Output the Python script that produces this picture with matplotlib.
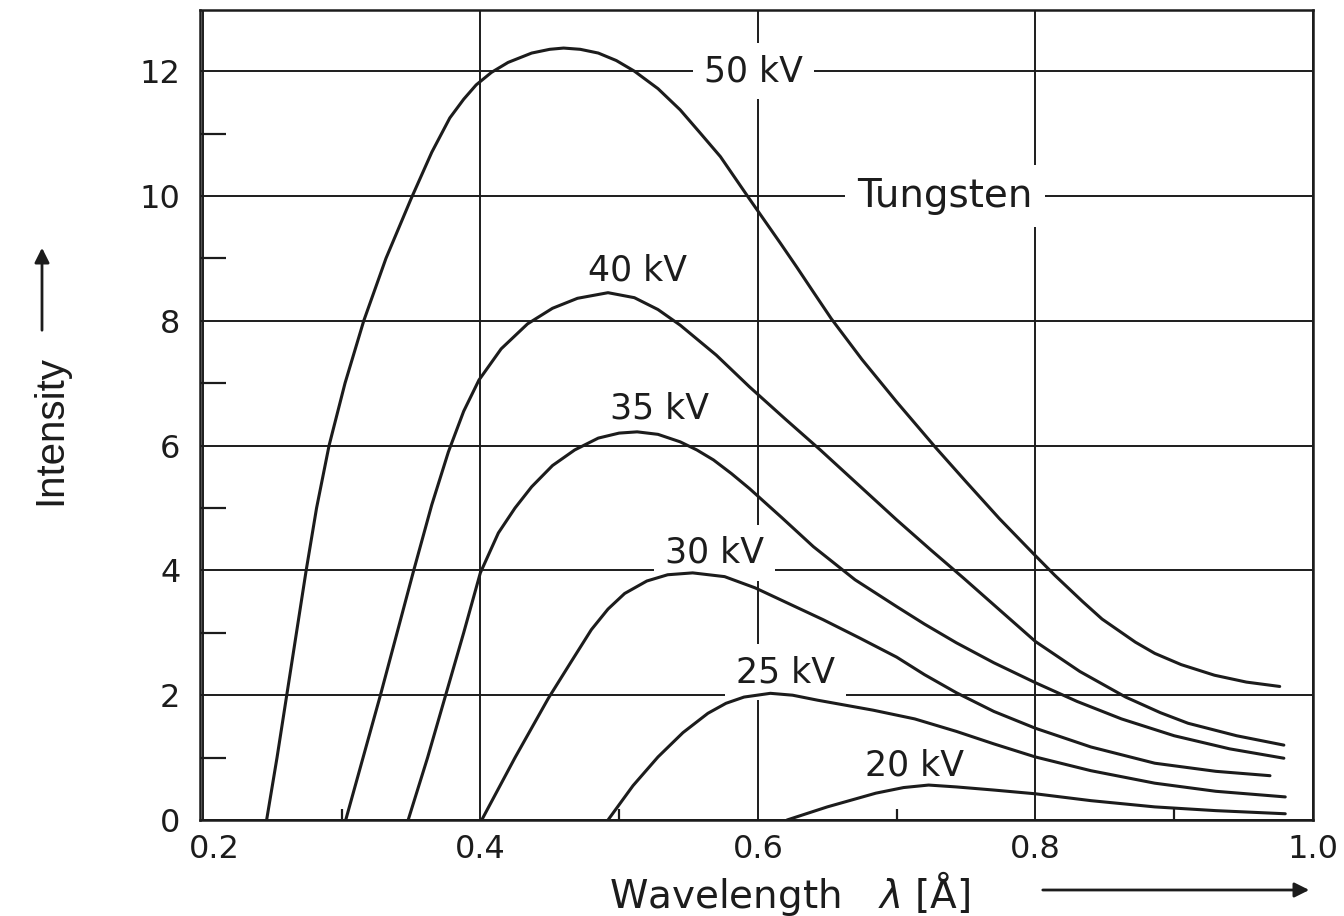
import numpy as np
import matplotlib
matplotlib.use('agg')
from matplotlib import pyplot as plt
from matplotlib import transforms

# continuous X-ray spectrum of tungsten
kv_labels = ['50 kV', '40 kV', '35 kV', '30 kV', '25 kV', '20 kV']

wl_50 = [0.246, 0.2535, 0.2605, 0.2675, 0.2745, 0.282, 0.291, 0.3025, 0.316, 0.332,
         0.350, 0.365, 0.378, 0.388, 0.397, 0.408, 0.420, 0.437, 0.450, 0.460,
         0.472, 0.485, 0.498, 0.511, 0.528, 0.544, 0.558, 0.573, 0.594, 0.616,
         0.628, 0.640, 0.653, 0.675, 0.700, 0.728, 0.750, 0.774, 0.798, 0.814,
         0.834, 0.848, 0.872, 0.886, 0.905, 0.929, 0.952, 0.976]
int_50 = [0.0, 1.0, 2.0, 3.0, 4.0, 5.0, 6.0, 7.0, 8.0, 9.0,
          9.95, 10.7, 11.25, 11.55, 11.78, 11.98, 12.14, 12.29, 12.35, 12.37,
          12.35, 12.29, 12.17, 12.0, 11.72, 11.38, 11.02, 10.63, 9.95, 9.25,
          8.86, 8.46, 8.03, 7.38, 6.7, 5.97, 5.42, 4.83, 4.28, 3.92,
          3.5, 3.22, 2.85, 2.67, 2.49, 2.32, 2.21, 2.14]

wl_40 = [0.303, 0.328, 0.352, 0.365, 0.377, 0.388, 0.399, 0.415, 0.434, 0.452,
         0.470, 0.492, 0.511, 0.528, 0.544, 0.570, 0.594, 0.620, 0.645, 0.672,
         0.700, 0.725, 0.748, 0.775, 0.800, 0.832, 0.865, 0.890, 0.910, 0.945,
         0.979]
int_40 = [0.0, 2.0, 4.0, 5.05, 5.9, 6.55, 7.05, 7.55, 7.95, 8.2,
          8.36, 8.45, 8.37, 8.18, 7.93, 7.45, 6.94, 6.42, 5.93, 5.38,
          4.81, 4.32, 3.88, 3.35, 2.86, 2.38, 1.97, 1.72, 1.55, 1.35,
          1.2]

wl_35 = [0.348, 0.362, 0.375, 0.388, 0.400, 0.413, 0.425, 0.437, 0.452, 0.468,
         0.485, 0.500, 0.513, 0.528, 0.544, 0.556, 0.568, 0.581, 0.594, 0.617,
         0.640, 0.670, 0.700, 0.720, 0.743, 0.770, 0.800, 0.830, 0.862, 0.900,
         0.940, 0.979]
int_35 = [0.0, 1.0, 2.0, 3.0, 3.96, 4.6, 5.0, 5.34, 5.68, 5.93,
          6.12, 6.2, 6.22, 6.18, 6.06, 5.93, 5.77, 5.55, 5.31, 4.85,
          4.38, 3.85, 3.42, 3.14, 2.84, 2.52, 2.2, 1.9, 1.62, 1.35,
          1.14, 0.99]

wl_30 = [0.401, 0.425, 0.449, 0.465, 0.480, 0.492, 0.504, 0.520, 0.535, 0.553,
         0.576, 0.598, 0.622, 0.647, 0.673, 0.700, 0.720, 0.743, 0.770, 0.800,
         0.840, 0.886, 0.930, 0.969]
int_30 = [0.0, 1.0, 1.95, 2.52, 3.05, 3.38, 3.63, 3.83, 3.93, 3.96,
          3.9, 3.72, 3.47, 3.21, 2.92, 2.61, 2.33, 2.04, 1.74, 1.47,
          1.17, 0.91, 0.78, 0.71]

wl_25 = [0.492, 0.510, 0.528, 0.546, 0.564, 0.577, 0.590, 0.609, 0.625, 0.643,
         0.663, 0.683, 0.713, 0.743, 0.770, 0.800, 0.840, 0.886, 0.930, 0.980]
int_25 = [0.0, 0.55, 1.01, 1.4, 1.71, 1.87, 1.97, 2.03, 2.0, 1.92,
          1.84, 1.76, 1.62, 1.42, 1.22, 1.01, 0.79, 0.59, 0.46, 0.37]

wl_20 = [0.621, 0.650, 0.685, 0.705, 0.723, 0.743, 0.770, 0.800, 0.840, 0.886,
         0.930, 0.980]
int_20 = [0.0, 0.21, 0.43, 0.52, 0.56, 0.53, 0.48, 0.42, 0.31, 0.21,
          0.15, 0.10]

x_ticks = [0.2, 0.4, 0.6, 0.8, 1.0]
x_ticklabels = ['0.2', '0.4', '0.6', '0.8', '1.0']
x_minor = [0.3, 0.5, 0.7, 0.9]
y_ticks = [0, 2, 4, 6, 8, 10, 12]
y_minor = [1, 3, 5, 7, 9, 11]

# label positions (data coords)
label_x = [0.597, 0.513, 0.529, 0.569, 0.620, 0.713]
label_y = [12.0, 8.81, 6.6, 4.28, 2.37, 0.88]

ink = '#1c1c1c'

fig = plt.figure(figsize=(13.44, 9.16), dpi=100)
ax = fig.add_axes([200/1344, 1-820/916, 1113/1344, 810/916])
ax.set_xlim(0.198, 0.997)
ax.set_ylim(0, 12.98)

for xs, ys in [(wl_50, int_50), (wl_40, int_40), (wl_35, int_35),
               (wl_30, int_30), (wl_25, int_25), (wl_20, int_20)]:
    ax.plot(xs, ys, color=ink, lw=2.2, solid_joinstyle='round',
            solid_capstyle='round', zorder=3)

ax.set_axisbelow(True)
ax.grid(True, which='major', color=ink, lw=1.4)

ax.set_xticks(x_ticks)
ax.set_xticklabels(x_ticklabels)
ax.set_xticks(x_minor, minor=True)
ax.set_yticks(y_ticks)
ax.set_yticks(y_minor, minor=True)
ax.tick_params(which='major', length=0, labelsize=23, colors=ink)
ax.tick_params(axis='x', which='major', pad=10)
ax.tick_params(axis='y', which='major', pad=14)
ax.tick_params(axis='y', which='minor', direction='in', length=19, width=1.6, color=ink)
ax.tick_params(axis='x', which='minor', direction='in', length=8, width=1.6, color=ink)
for s in ax.spines.values():
    s.set_color(ink)
    s.set_linewidth(1.8)

# the first x label sits a little to the right of its tick in the original
first = ax.get_xticklabels()[0]
first.set_transform(first.get_transform() +
                    transforms.ScaledTranslation(12/100, 0, fig.dpi_scale_trans))

box = dict(facecolor='white', edgecolor='none', pad=8)
for lab, lx, ly in zip(kv_labels, label_x, label_y):
    ax.text(lx, ly, lab, fontsize=25, color=ink, ha='center', va='center',
            bbox=box, zorder=2)
ax.text(0.735, 10.0, 'Tungsten', fontsize=28, color=ink, ha='center', va='center',
        bbox=dict(facecolor='white', edgecolor='none', pad=9), zorder=2)

# axis titles with arrows
fig.text(50/1344, 1-430/916, 'Intensity', rotation=90, ha='center', va='center',
         fontsize=29, color=ink, family=['Liberation Sans', 'DejaVu Sans'])
ax.annotate('', xy=(42, 916-245), xytext=(42, 916-333), xycoords='figure pixels',
            arrowprops=dict(arrowstyle='-|>', lw=2, color=ink, mutation_scale=22))
fig.text(790/1344, 1-893/916, 'Wavelength   $\\lambda$ [Å]', ha='center', va='center',
         fontsize=28, color=ink)
ax.annotate('', xy=(1312, 916-890), xytext=(1040, 916-890), xycoords='figure pixels',
            arrowprops=dict(arrowstyle='-|>', lw=2, color=ink, mutation_scale=22))

fig.savefig('out.png', dpi=100, facecolor='white')
